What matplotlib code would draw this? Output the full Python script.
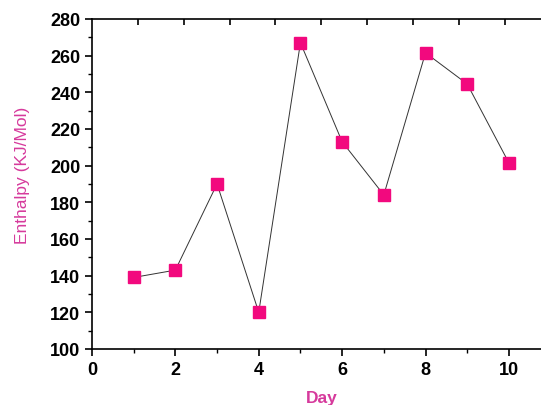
import numpy as np
import matplotlib.pyplot as plt
from matplotlib.ticker import MultipleLocator

# enthalpy readings per day
day = np.array([1, 2, 3, 4, 5, 6, 7, 8, 9, 10])
enthalpy = np.array([139, 143, 190, 120, 267, 213, 184, 261.5, 244.5, 201.5])

plt.rcParams['font.family'] = ['Liberation Sans', 'DejaVu Sans']

fig = plt.figure(figsize=(5.41, 4.06), dpi=100)
ax = fig.add_axes([0.170, 0.138, 0.830, 0.813])

pink = '#f2097e'
label_pink = '#d63a9c'

ax.plot(day, enthalpy, color='#333333', lw=0.7, zorder=1)
ax.plot(day, enthalpy, ls='none', marker='s', ms=8, mfc=pink, mec=pink, zorder=2)

ax.set_xlim(0, 10.77)
ax.set_ylim(100, 280)
ax.xaxis.set_major_locator(MultipleLocator(2))
ax.xaxis.set_minor_locator(MultipleLocator(1))
ax.yaxis.set_major_locator(MultipleLocator(20))
ax.yaxis.set_minor_locator(MultipleLocator(10))

ax.spines['right'].set_visible(False)
for s in ['left', 'bottom', 'top']:
    ax.spines[s].set_linewidth(1.2)

ax.tick_params(which='major', direction='out', length=5, width=1.2, labelsize=13)
ax.tick_params(which='minor', direction='out', length=3, width=1)
for lab in ax.get_xticklabels() + ax.get_yticklabels():
    lab.set_fontweight('bold')

# ticks on top spine
top = ax.secondary_xaxis('top')
top.set_xticks(np.arange(1.1, 10.8, 1.1))
top.tick_params(direction='in', length=4, width=1.2, labeltop=False)
top.spines['top'].set_visible(False)

ax.set_xlabel('Day', color=label_pink, fontsize=12.5, fontweight='bold')
ax.set_ylabel('Enthalpy (KJ/Mol)', color=label_pink, fontsize=12.5)
ax.xaxis.set_label_coords(0.512, -0.125)
ax.yaxis.set_label_coords(-0.138, 0.53)

plt.savefig('out.png', dpi=100)
